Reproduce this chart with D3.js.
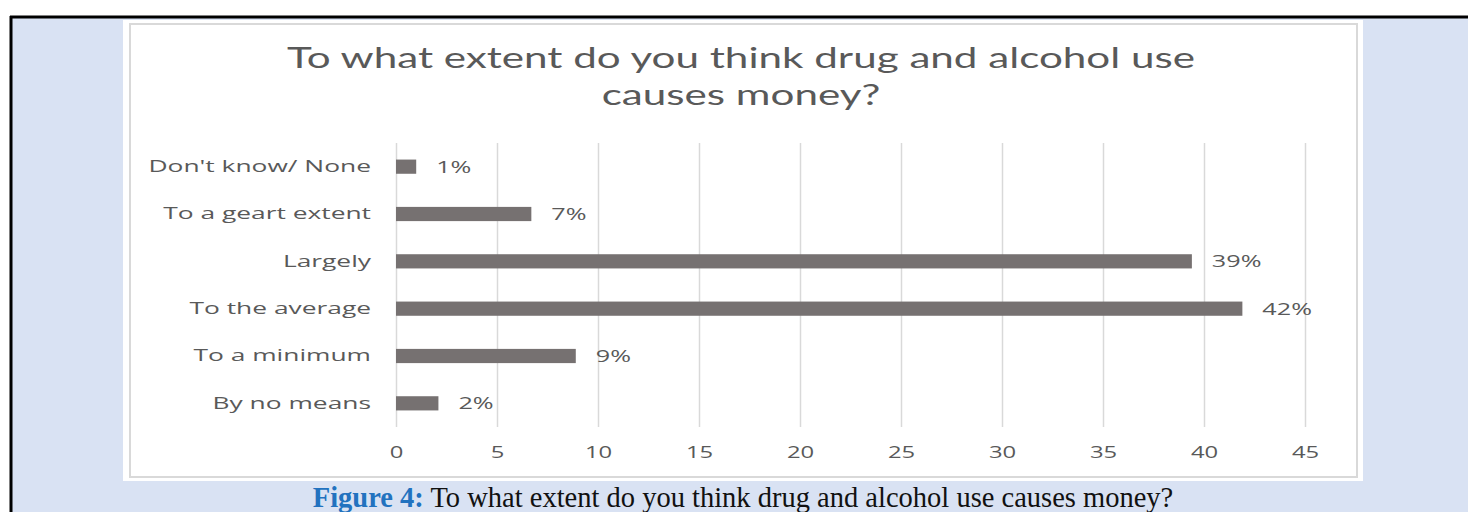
<!DOCTYPE html>
<html lang="en">
  <head>
    <meta charset="utf-8" />
    <title>Figure 4</title>
    <style>
      body {
        margin: 0;
        background: #ffffff;
      }
    </style>
  </head>
  <body>
    <div id="graph-display"></div>

    <script src="https://d3js.org/d3.v7.min.js"></script>
    <script>
      // data
      const categories = [
        "Don't know/ None",
        "To a geart extent",
        "Largely",
        "To the average",
        "To a minimum",
        "By no means",
      ];
      const values = [1.0, 6.7, 39.4, 41.9, 8.9, 2.1];
      const valueLabels = ["1%", "7%", "39%", "42%", "9%", "2%"];
      const xTicks = [0, 5, 10, 15, 20, 25, 30, 35, 40, 45];
      const titleLines = [
        "To what extent do you think drug and alcohol use",
        "causes money?",
      ];
      const captionLead = "Figure 4:";
      const captionText = " To what extent do you think drug and alcohol use causes money?";

      // the original export is stretched sideways, so widen the glyphs a bit
      const stretch = (sel, k) => {
        sel.each(function () {
          const len = this.getComputedTextLength();
          d3.select(this)
            .attr("textLength", len * k)
            .attr("lengthAdjust", "spacingAndGlyphs");
        });
      };

      const initGraph = (width = 1468, height = 512) => {
        const textGray = "#595959";
        const barColor = "#767171";
        const gridColor = "#d9d9d9";
        const sans = "'Open Sans', 'DejaVu Sans', sans-serif";

        const plotLeft = 396;
        const plotRight = 1305;
        const plotTop = 143;
        const plotBottom = 427;

        const svg = d3
          .select("#graph-display")
          .append("svg")
          .attr("width", width)
          .attr("height", height);

        // page background + frame
        svg.append("rect")
          .attr("x", 0).attr("y", 0)
          .attr("width", width).attr("height", height)
          .attr("fill", "#ffffff");
        svg.append("rect")
          .attr("x", 10).attr("y", 16)
          .attr("width", width - 10).attr("height", height - 16)
          .attr("fill", "#d9e2f3");
        svg.append("line")
          .attr("x1", 10).attr("x2", width)
          .attr("y1", 17).attr("y2", 17)
          .attr("stroke", "#000").attr("stroke-width", 3);
        svg.append("line")
          .attr("x1", 11).attr("x2", 11)
          .attr("y1", 16).attr("y2", height)
          .attr("stroke", "#000").attr("stroke-width", 3);

        // chart panel
        svg.append("rect")
          .attr("x", 123).attr("y", 20)
          .attr("width", 1240).attr("height", 461)
          .attr("fill", "#ffffff");
        svg.append("rect")
          .attr("x", 130).attr("y", 24)
          .attr("width", 1227).attr("height", 453)
          .attr("fill", "none")
          .attr("stroke", gridColor)
          .attr("stroke-width", 2);

        const xScale = d3
          .scaleLinear()
          .domain([0, 45])
          .range([plotLeft, plotRight]);

        const yScale = d3
          .scaleBand()
          .domain(categories)
          .range([plotTop, plotBottom])
          .paddingInner(0.7)
          .paddingOuter(0.35);

        // gridlines
        const grid = svg
          .append("g")
          .attr("transform", `translate(0,${plotBottom})`)
          .call(
            d3.axisBottom(xScale)
              .tickValues(xTicks)
              .tickSize(-(plotBottom - plotTop))
              .tickFormat("")
          );
        grid.select(".domain").remove();
        grid.selectAll(".tick line")
          .attr("stroke", gridColor)
          .attr("stroke-width", 1.5);

        // x tick labels
        const xAxis = svg
          .append("g")
          .attr("transform", `translate(0,${plotBottom})`)
          .call(
            d3.axisBottom(xScale)
              .tickValues(xTicks)
              .tickSize(0)
              .tickPadding(19)
          );
        xAxis.select(".domain").remove();
        xAxis.selectAll("text")
          .attr("fill", textGray)
          .style("font-family", sans)
          .style("font-size", "17px")
          .call(stretch, 1.4);

        // category labels
        const yAxis = svg
          .append("g")
          .attr("transform", `translate(${plotLeft},0)`)
          .call(d3.axisLeft(yScale).tickSize(0).tickPadding(25));
        yAxis.select(".domain").remove();
        yAxis.selectAll("text")
          .attr("fill", textGray)
          .style("font-family", sans)
          .style("font-size", "17px")
          .call(stretch, 1.55);

        // bars
        const rows = categories.map((c, i) => ({ cat: c, val: values[i], label: valueLabels[i] }));

        svg
          .selectAll("rect.bar")
          .data(rows)
          .enter()
          .append("rect")
          .attr("class", "bar")
          .attr("x", xScale(0))
          .attr("y", (d) => yScale(d.cat))
          .attr("width", (d) => xScale(d.val) - xScale(0))
          .attr("height", yScale.bandwidth())
          .attr("fill", barColor);

        svg
          .selectAll("text.val")
          .data(rows)
          .enter()
          .append("text")
          .attr("class", "val")
          .attr("x", (d) => xScale(d.val) + 20)
          .attr("y", (d) => yScale(d.cat) + yScale.bandwidth() / 2)
          .attr("dy", "0.35em")
          .attr("fill", textGray)
          .style("font-family", sans)
          .style("font-size", "17px")
          .text((d) => d.label)
          .call(stretch, 1.48);

        // title
        const title = svg
          .append("g")
          .selectAll("text")
          .data(titleLines)
          .enter()
          .append("text")
          .attr("x", 741)
          .attr("y", (d, i) => 68 + i * 37)
          .attr("text-anchor", "middle")
          .attr("fill", textGray)
          .style("font-family", "Lato, 'Open Sans', sans-serif")
          .style("font-size", "28px")
          .text((d) => d);
        const titleK = 908 / title.node().getComputedTextLength();
        title.call(stretch, titleK);

        // caption under the panel
        const caption = svg
          .append("text")
          .attr("x", 743)
          .attr("y", 507)
          .attr("text-anchor", "middle")
          .style("font-family", "'Liberation Serif', 'DejaVu Serif', serif")
          .style("font-size", "28.5px");
        caption.append("tspan")
          .attr("fill", "#2272bf")
          .style("font-weight", "bold")
          .text(captionLead);
        caption.append("tspan")
          .attr("fill", "#111111")
          .text(captionText);
      };

      window.addEventListener("DOMContentLoaded", function () {
        initGraph(1468, 512);
      });
    </script>
  </body>
</html>
